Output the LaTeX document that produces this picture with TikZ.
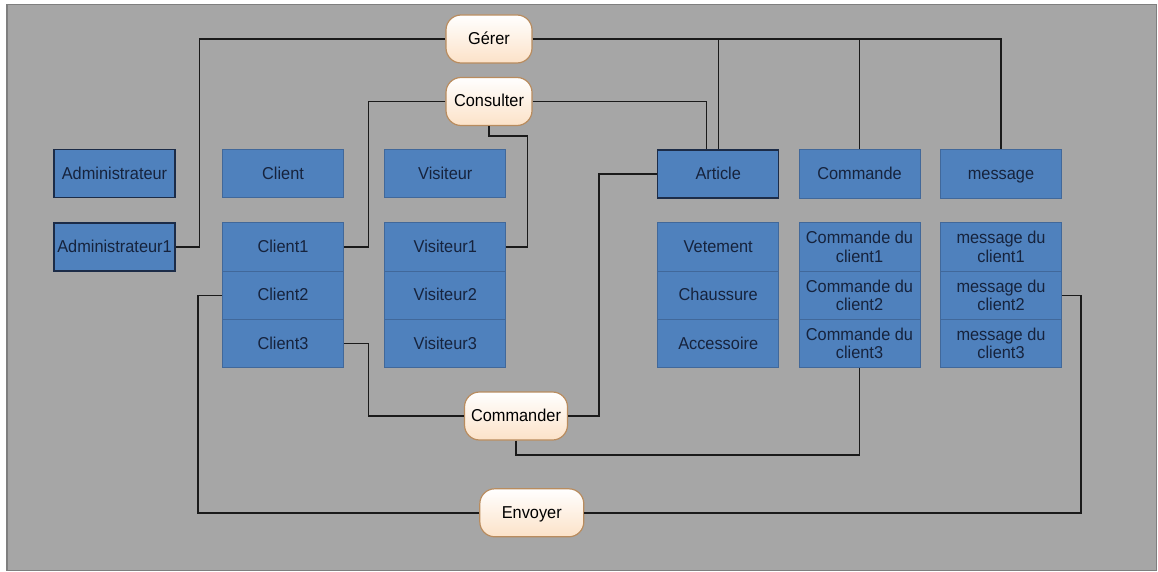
\documentclass[tikz,border=0pt]{standalone}
\usepackage{fontspec}
\setmainfont{Liberation Sans}[FakeStretch=0.95]
\definecolor{bggray}{HTML}{A6A6A6}
\definecolor{bgedge}{HTML}{7F7F7F}
\definecolor{boxblue}{HTML}{4F81BD}
\definecolor{boxedge}{HTML}{41689A}
\definecolor{keyedge}{HTML}{1C2C48}
\definecolor{boxtext}{HTML}{16233D}
\definecolor{actedge}{HTML}{B98C5E}
\definecolor{actpeach}{HTML}{FCE2C8}
\definecolor{linkcol}{HTML}{1A1A1A}
\begin{document}
\begin{tikzpicture}[x=1pt,y=-1pt,
  labelfont/.style={font=\fontsize{17.2}{18.6}\selectfont},
  box/.style={rectangle, draw=boxedge, line width=0.9pt, fill=boxblue, text=boxtext,
    minimum width=121pt, minimum height=48.4pt, inner sep=1pt, align=center, labelfont},
  onebox/.style={box, text height=13pt, text depth=2pt},
  keybox/.style={onebox, draw=keyedge, line width=1.5pt},
  action/.style={rectangle, rounded corners=15pt, draw=actedge, line width=1.2pt,
    top color=white, bottom color=actpeach, minimum height=48pt, inner sep=2pt,
    text height=13pt, text depth=2pt, text=black, labelfont},
  link/.style={draw=linkcol, line width=1.4pt}]
\useasboundingbox (0,0) rectangle (1158,572);
\fill[white] (0,0) rectangle (1158,572);
\draw[fill=bggray, draw=bgedge, line width=1.2pt] (7,4.5) rectangle (1156.5,570.5);

% actors
\node[keybox] (adm)  at (114.5,173.5) {Administrateur};
\node[keybox] (adm1) at (114.5,247)   {Administrateur1};

\node[onebox] (client)  at (283,173.5) {Client};
\node[onebox] (client1) at (283,246.9) {Client1};
\node[onebox] (client2) at (283,295.2) {Client2};
\node[onebox] (client3) at (283,343.5) {Client3};

\node[onebox] (vis)  at (445.3,173.5) {Visiteur};
\node[onebox] (vis1) at (445.3,246.9) {Visiteur1};
\node[onebox] (vis2) at (445.3,295.2) {Visiteur2};
\node[onebox] (vis3) at (445.3,343.5) {Visiteur3};

% entities
\node[keybox] (article) at (718.2,174) {Article};
\node[onebox] (vet)  at (718.2,246.9) {Vetement};
\node[onebox] (chau) at (718.2,295.2) {Chaussure};
\node[onebox] (acc)  at (718.2,343.5) {Accessoire};

\node[onebox] (cmd)  at (859.5,174)   {Commande};
\node[box] (cmd1) at (859.5,246.9) {Commande du\\client1};
\node[box] (cmd2) at (859.5,295.2) {Commande du\\client2};
\node[box] (cmd3) at (859.5,343.5) {Commande du\\client3};

\node[onebox] (msg)  at (1001,174)   {message};
\node[box] (msg1) at (1001,246.9) {message du\\client1};
\node[box] (msg2) at (1001,295.2) {message du\\client2};
\node[box] (msg3) at (1001,343.5) {message du\\client3};

% actions
\node[action, minimum width=86pt]  (gerer)     at (489,39)    {Gérer};
\node[action, minimum width=86pt]  (consulter) at (489,101.5) {Consulter};
\node[action, minimum width=103pt] (commander) at (516,416)   {Commander};
\node[action, minimum width=104pt] (envoyer)   at (531.8,512.8) {Envoyer};

% Gérer
\draw[link] (gerer.west) -| ([xshift=24pt]adm1.east) -- (adm1.east);
\draw[link] (gerer.east) -| (msg.north);
\draw[link] (article.north) -- (article.north |- gerer.east);
\draw[link] (cmd.north) -- (cmd.north |- gerer.east);

% Consulter
\draw[link] (consulter.east) -| ([xshift=-12pt]article.north);
\draw[link] (consulter.west) -| ([xshift=24.5pt]client1.east) -- (client1.east);
\draw[link] (consulter.south) -- ++(0,10) -| ([xshift=21.5pt]vis1.east) -- (vis1.east);

% Commander
\draw[link] (commander.west) -| ([xshift=24.5pt]client3.east) -- (client3.east);
\draw[link] (commander.east) -| ([xshift=-57.8pt]article.west) -- (article.west);
\draw[link] (commander.south) -- ++(0,14.3) -| (cmd3.south);

% Envoyer
\draw[link] (envoyer.west) -| ([xshift=-24pt]client2.west) -- (client2.west);
\draw[link] (envoyer.east) -| ([xshift=19pt]msg2.east) -- (msg2.east);
\end{tikzpicture}
\end{document}
